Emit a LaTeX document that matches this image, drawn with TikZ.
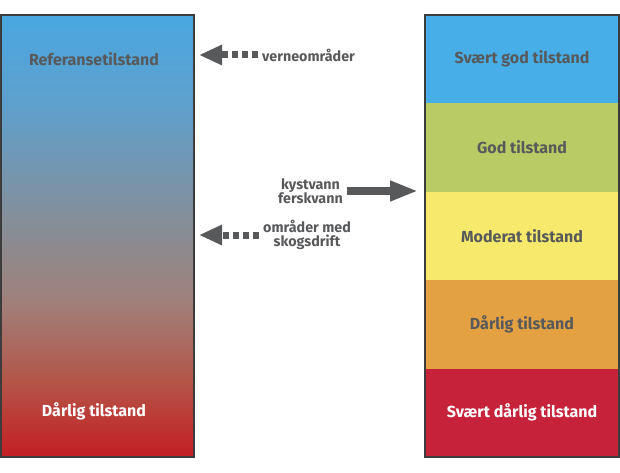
\documentclass[tikz,border=0pt]{standalone}
\usepackage{fontspec}
\setmainfont{Fira Sans}
\usetikzlibrary{arrows.meta,positioning}

\definecolor{txtgray}{RGB}{88,89,91}
\definecolor{framegray}{RGB}{60,60,60}
\definecolor{cblue}{RGB}{71,174,232}
\definecolor{cgreen}{RGB}{184,203,100}
\definecolor{cyellow}{RGB}{246,233,107}
\definecolor{corange}{RGB}{227,161,66}
\definecolor{cred}{RGB}{198,34,58}

% blue at the top, red at the bottom (box fills 25bp..75bp)
\pgfdeclareverticalshading{refshade}{100bp}{%
    rgb(0bp)=(0.769,0.118,0.141);
    rgb(25bp)=(0.769,0.118,0.141);
    rgb(33.5bp)=(0.706,0.333,0.282);
    rgb(42.5bp)=(0.627,0.502,0.478);
    rgb(50bp)=(0.541,0.549,0.573);
    rgb(65bp)=(0.369,0.627,0.804);
    rgb(75bp)=(0.290,0.655,0.878);
    rgb(100bp)=(0.290,0.655,0.878)}

\tikzset{
    classbox/.style={minimum width=194pt,minimum height=88.4pt,inner sep=0pt,outer sep=0pt},
    boxlabel/.style={font=\bfseries\fontsize{16}{18}\selectfont,text=txtgray},
    sidelabel/.style={font=\bfseries\fontsize{14.3}{14.5}\selectfont,text=txtgray,align=center,inner sep=0pt},
    dasharrow/.style={line width=7pt,draw=txtgray,dash pattern=on 6pt off 4pt,
        -{Triangle[length=23pt,width=19pt]}},
    fullarrow/.style={line width=8pt,draw=txtgray,-{Triangle[length=28pt,width=19pt]}}
}

\begin{document}
\begin{tikzpicture}[x=1pt,y=-1pt]
    \useasboundingbox (0,0) rectangle (620,473);

    % Left column: reference scale with gradient
    \node[minimum width=193pt,minimum height=442pt,inner sep=0pt,outer sep=0pt,
        shading=refshade,draw=framegray,line width=1.2pt] (ref) at (97.5,236) {};
    \node[boxlabel] (reftop) at (94,59) {Referansetilstand};
    \node[boxlabel,text=white] (refbot) at (94,411) {Dårlig tilstand};

    % Right column: five classes
    \node[classbox,fill=cblue] (c1) at (522,59.2) {};
    \node[classbox,fill=cgreen,below=0pt of c1] (c2) {};
    \node[classbox,fill=cyellow,below=0pt of c2] (c3) {};
    \node[classbox,fill=corange,below=0pt of c3] (c4) {};
    \node[classbox,fill=cred,below=0pt of c4] (c5) {};
    \draw[framegray,line width=1.2pt] (c1.north west) rectangle (c5.south east);
    \node[boxlabel] at (c1) {Svært god tilstand};
    \node[boxlabel] at (c2) {God tilstand};
    \node[boxlabel] at (c3) {Moderat tilstand};
    \node[boxlabel] at (c4) {Dårlig tilstand};
    \node[boxlabel,text=white] at (c5) {Svært dårlig tilstand};

    % Labels and arrows in between
    \node[sidelabel,anchor=west] (verne) at (262,55) {verneområder};
    \node[sidelabel,anchor=east] (vann) at (343,191) {kystvann\\ferskvann};
    \node[sidelabel,anchor=west] (skog) at (263,235) {områder med\\skogsdrift};

    \draw[dasharrow] ([xshift=-4pt]verne.west) -- ([xshift=5pt]verne.west -| ref.east);
    \draw[dasharrow] ([xshift=-4pt]skog.west) -- ([xshift=5pt]skog.west -| ref.east);
    \draw[fullarrow] ([xshift=4pt]vann.east) -- ([xshift=-7pt]vann.east -| c3.west);
\end{tikzpicture}
\end{document}
